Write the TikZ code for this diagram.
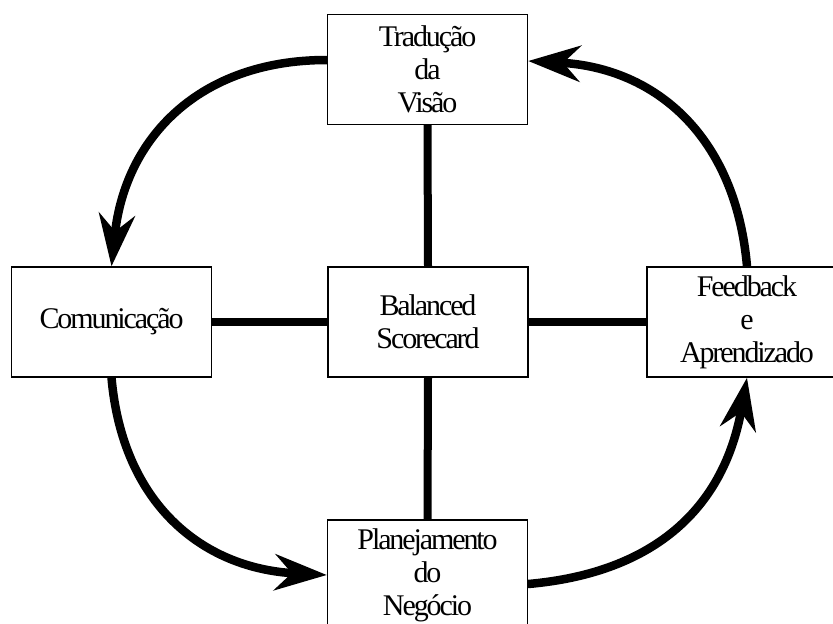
\documentclass[tikz,border=0pt]{standalone}
\usepackage{fontspec}
\setmainfont{Liberation Serif}[LetterSpace=-7]
\usetikzlibrary{arrows.meta,backgrounds}
\begin{document}
\begin{tikzpicture}[x=1pt,y=-1pt,
  box/.style={draw, line width=1.4pt, fill=white, minimum width=200pt,
    minimum height=110pt, inner sep=0pt, align=center,
    font=\fontsize{30}{33}\selectfont},
  link/.style={line width=8pt},
  cyclearrow/.style={line width=8.5pt, line cap=round,
    -{Stealth[length=52pt,width=36pt,inset=17pt]}}]
\useasboundingbox (0,0) rectangle (833,624);
\clip (0,0) rectangle (833,624);

% the five stages
\node[box] (bsc)  at (428,322)   {Balanced\\Scorecard};
\node[box] (top)  at (427.5,69.5) {Tradução\\da\\Visão};
\node[box] (comm) at (111.5,322) {Comunicação};
\node[box] (fb)   at (747,322)   {Feedback\\e\\Aprendizado};
\node[box] (plan) at (427.5,575) {Planejamento\\do\\Negócio};

\begin{scope}[on background layer]
  % spokes from the centre
  \draw[link] (bsc.north) -- (top.south);
  \draw[link] (bsc.south) -- (plan.north);
  \draw[link] (bsc.west)  -- (comm.east);
  \draw[link] (bsc.east)  -- (fb.west);

  % the management cycle
  \draw[cyclearrow] ([yshift=9.5pt]top.west) to[out=180,in=84,looseness=1.1] (comm.north);
  \draw[cyclearrow] (comm.south) to[out=-85,in=177,looseness=1.1] (plan.west);
  \draw[cyclearrow] ([yshift=-9pt]plan.east) to[out=5,in=-100,looseness=1.1] (fb.south);
  \draw[cyclearrow] (fb.north) to[out=95,in=-3,looseness=1.1] ([yshift=8.5pt]top.east);
\end{scope}
\end{tikzpicture}
\end{document}
